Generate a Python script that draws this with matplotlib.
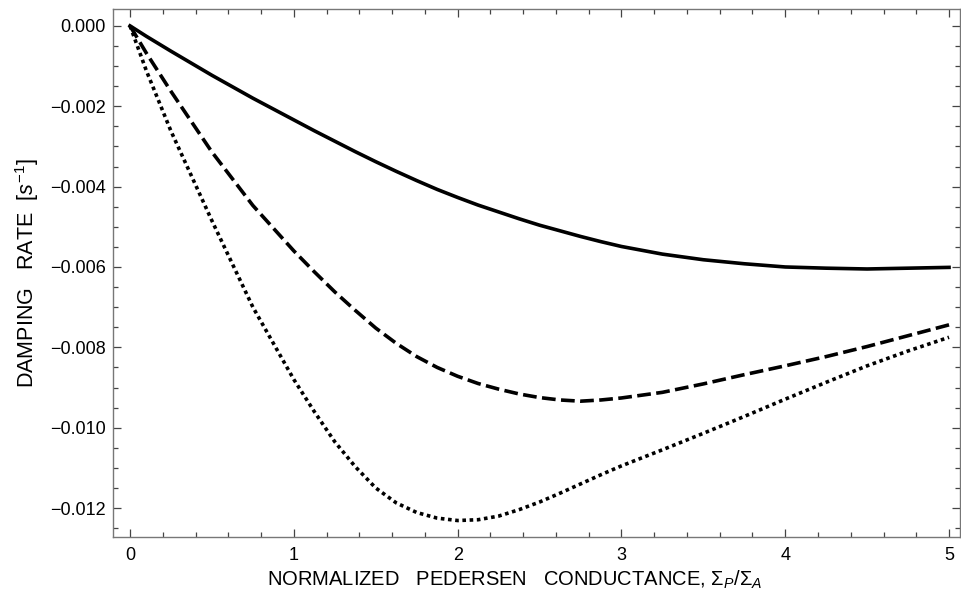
import matplotlib
matplotlib.use("Agg")
import matplotlib.pyplot as plt
from matplotlib.ticker import MultipleLocator, FuncFormatter

plt.rcParams['font.family'] = ['Liberation Sans', 'DejaVu Sans']
plt.rcParams['mathtext.fontset'] = 'custom'
plt.rcParams['mathtext.rm'] = 'Liberation Sans'
plt.rcParams['mathtext.it'] = 'Liberation Sans:italic'
plt.rcParams['mathtext.sf'] = 'Liberation Sans'

# Data
x = [0.0, 0.1, 0.25, 0.5, 0.75, 1.0, 1.125, 1.25, 1.375, 1.5, 1.625, 1.75,
     1.875, 2.0, 2.125, 2.25, 2.375, 2.5, 2.625, 2.75, 2.875, 3.0, 3.25,
     3.5, 3.75, 4.0, 4.25, 4.5, 4.75, 5.0]
solid = [0.0, -0.00026, -0.00063, -0.00123, -0.00180, -0.00234, -0.00261,
         -0.00287, -0.00313, -0.00338, -0.00362, -0.00385, -0.00407,
         -0.00427, -0.00446, -0.00463, -0.00480, -0.00496, -0.00510,
         -0.00524, -0.00537, -0.00549, -0.00568, -0.00582, -0.00592,
         -0.00600, -0.00603, -0.00605, -0.00603, -0.00601]
dashed = [0.0, -0.00068, -0.00163, -0.00314, -0.00447, -0.00560, -0.00612,
          -0.00662, -0.00708, -0.00752, -0.00790, -0.00823, -0.00850,
          -0.00872, -0.00890, -0.00904, -0.00916, -0.00925, -0.00931,
          -0.00934, -0.00931, -0.00926, -0.00912, -0.00891, -0.00868,
          -0.00846, -0.00823, -0.00798, -0.00771, -0.00744]
dotted = [0.0, -0.00112, -0.00262, -0.00485, -0.00700, -0.00880, -0.00960,
          -0.01035, -0.01097, -0.01150, -0.01187, -0.01211, -0.01225,
          -0.01231, -0.01229, -0.01220, -0.01204, -0.01185, -0.01163,
          -0.01140, -0.01117, -0.01095, -0.01055, -0.01014, -0.00972,
          -0.00929, -0.00887, -0.00846, -0.00809, -0.00775]

xticks = [0, 1, 2, 3, 4, 5]
yticks = [0.000, -0.002, -0.004, -0.006, -0.008, -0.010, -0.012]


def yfmt(v, pos):
    s = '%.3f' % abs(v)
    return ('\u2212' + s) if v < -1e-12 else s


fig = plt.figure(figsize=(9.61, 6.02), dpi=100)
ax = fig.add_axes([113/961, 65/602, (960-113)/961, (537-9)/602])

ax.plot(x, solid, color='black', lw=2.6)
ax.plot(x, dashed, color='black', lw=2.6, dashes=(3.8, 1.5))
ax.plot(x, dotted, color='black', lw=2.6, dashes=(1.0, 1.0))

ax.set_xlim(-0.104, 5.067)
ax.set_ylim(-0.01272, 0.00042)

ax.set_xticks(xticks)
ax.set_yticks(yticks)
ax.xaxis.set_minor_locator(MultipleLocator(0.2))
ax.yaxis.set_minor_locator(MultipleLocator(0.0005))
ax.yaxis.set_major_formatter(FuncFormatter(yfmt))
ax.tick_params(which='both', direction='in', top=True, right=True,
               color='#444444', labelsize=13, width=0.9)
ax.tick_params(which='major', length=5.5)
ax.tick_params(which='minor', length=3.5)
ax.tick_params(axis='x', which='major', pad=7)
ax.tick_params(axis='y', which='major', pad=5)
for s in ax.spines.values():
    s.set_color('#777777')
    s.set_linewidth(1.0)

ax.set_xlabel('NORMALIZED   PEDERSEN   CONDUCTANCE, $\\Sigma_{P}/\\Sigma_{A}$',
              fontsize=14.5)
ax.xaxis.set_label_coords((515-113)/847, -(580-537)/528, transform=ax.transAxes)
ax.xaxis.label.set_va('center')
ax.set_ylabel('DAMPING   RATE  [$s^{-1}$]', fontsize=15.5)
ax.yaxis.set_label_coords(-(113-27)/847, 0.5, transform=ax.transAxes)
ax.yaxis.label.set_va('center')

fig.savefig('out.png', dpi=100)
